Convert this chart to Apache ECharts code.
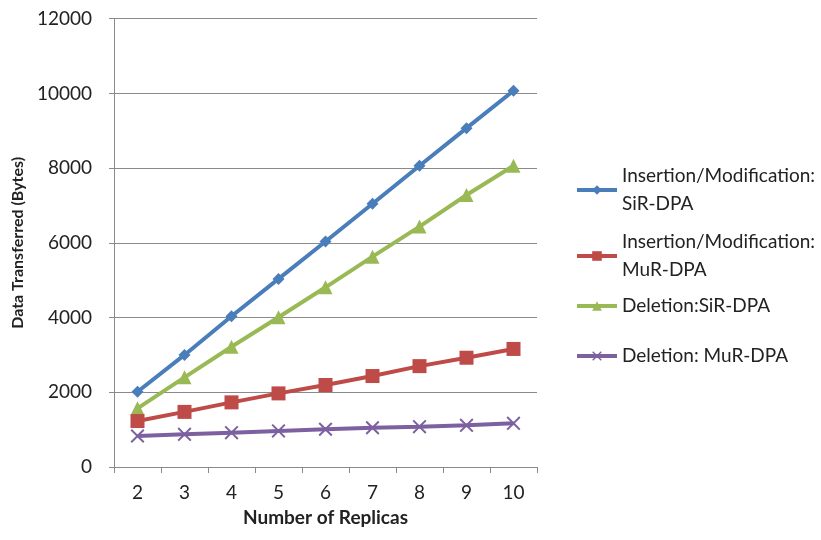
<!DOCTYPE html>
<html>
<head>
<meta charset="utf-8">
<script src="https://cdn.jsdelivr.net/npm/echarts@6/dist/echarts.min.js"></script>
<style>html,body{margin:0;padding:0;background:#fff}#c{width:821px;height:540px}</style>
</head>
<body>
<div id="c"></div>
<script>
var categories = ['2','3','4','5','6','7','8','9','10'];
var seriesNames = ['Insertion/Modification:\nSiR-DPA','Insertion/Modification:\nMuR-DPA','Deletion:SiR-DPA','Deletion: MuR-DPA'];
var insSiR = [2015, 3000, 4035, 5035, 6035, 7045, 8065, 9070, 10070];
var insMuR = [1230, 1475, 1730, 1970, 2195, 2435, 2700, 2925, 3160];
var delSiR = [1570, 2400, 3220, 4010, 4810, 5630, 6435, 7280, 8065];
var delMuR = [830, 875, 920, 965, 1010, 1050, 1080, 1115, 1170];
var yTicks = [0, 2000, 4000, 6000, 8000, 10000, 12000];

var FONT = 'Lato';
var colors = ['#4A7EBB', '#BE4B48', '#98B954', '#7D60A0'];
var symbols = ['diamond', 'rect', 'triangle', 'path://M0,1 L1,0 L5,4 L9,0 L10,1 L6,5 L10,9 L9,10 L5,6 L1,10 L0,9 L4,5 Z'];
var sizes = [12, 14, 14, 14];
var dataSets = [insSiR, insMuR, delSiR, delMuR];
var legendTops = [157, 223, 287, 337];

var chart = echarts.init(document.getElementById('c'), null, {renderer: 'canvas'});
var series = dataSets.map(function (d, i) {
  return {
    name: seriesNames[i],
    type: 'line',
    data: d,
    symbol: symbols[i],
    symbolSize: sizes[i],
    showAllSymbol: true,
    lineStyle: {color: colors[i], width: 4},
    itemStyle: {color: colors[i]},
    z: 10 - i
  };
});
var legends = seriesNames.map(function (n, i) {
  return {
    data: [n],
    left: 570,
    top: legendTops[i],
    orient: 'vertical',
    itemWidth: 40,
    itemHeight: 12,
    itemGap: 4,
    lineStyle: {width: 4},
    textStyle: {fontFamily: FONT, fontSize: 19, color: '#222', lineHeight: 28},
    selectedMode: false
  };
});
chart.setOption({
  animation: false,
  color: colors,
  grid: {left: 114, right: 284, top: 18.7, bottom: 73, containLabel: false},
  legend: legends,
  xAxis: {
    type: 'category',
    data: categories,
    name: 'Number of Replicas',
    nameLocation: 'middle',
    nameGap: 41,
    nameTextStyle: {fontFamily: FONT, fontSize: 19, fontWeight: 'bold', color: '#222'},
    axisLine: {lineStyle: {color: '#8a8a8a', width: 1}},
    axisTick: {show: true, length: 6, lineStyle: {color: '#8a8a8a'}},
    axisLabel: {fontFamily: FONT, fontSize: 19, color: '#222', margin: 16},
    splitLine: {show: false}
  },
  yAxis: {
    type: 'value',
    min: yTicks[0],
    max: yTicks[yTicks.length - 1],
    interval: yTicks[1] - yTicks[0],
    name: 'Data Transferred (Bytes)',
    nameLocation: 'middle',
    nameGap: 83,
    nameTextStyle: {fontFamily: FONT, fontSize: 16, fontWeight: 'bold', color: '#222'},
    axisLine: {show: true, lineStyle: {color: '#8a8a8a', width: 1}},
    axisTick: {show: true, length: 5, lineStyle: {color: '#8a8a8a'}},
    axisLabel: {fontFamily: FONT, fontSize: 19, color: '#222', margin: 22, formatter: function (v) { return String(v); }},
    splitLine: {lineStyle: {color: '#8a8a8a', width: 1}}
  },
  series: series
});
</script>
</body>
</html>
